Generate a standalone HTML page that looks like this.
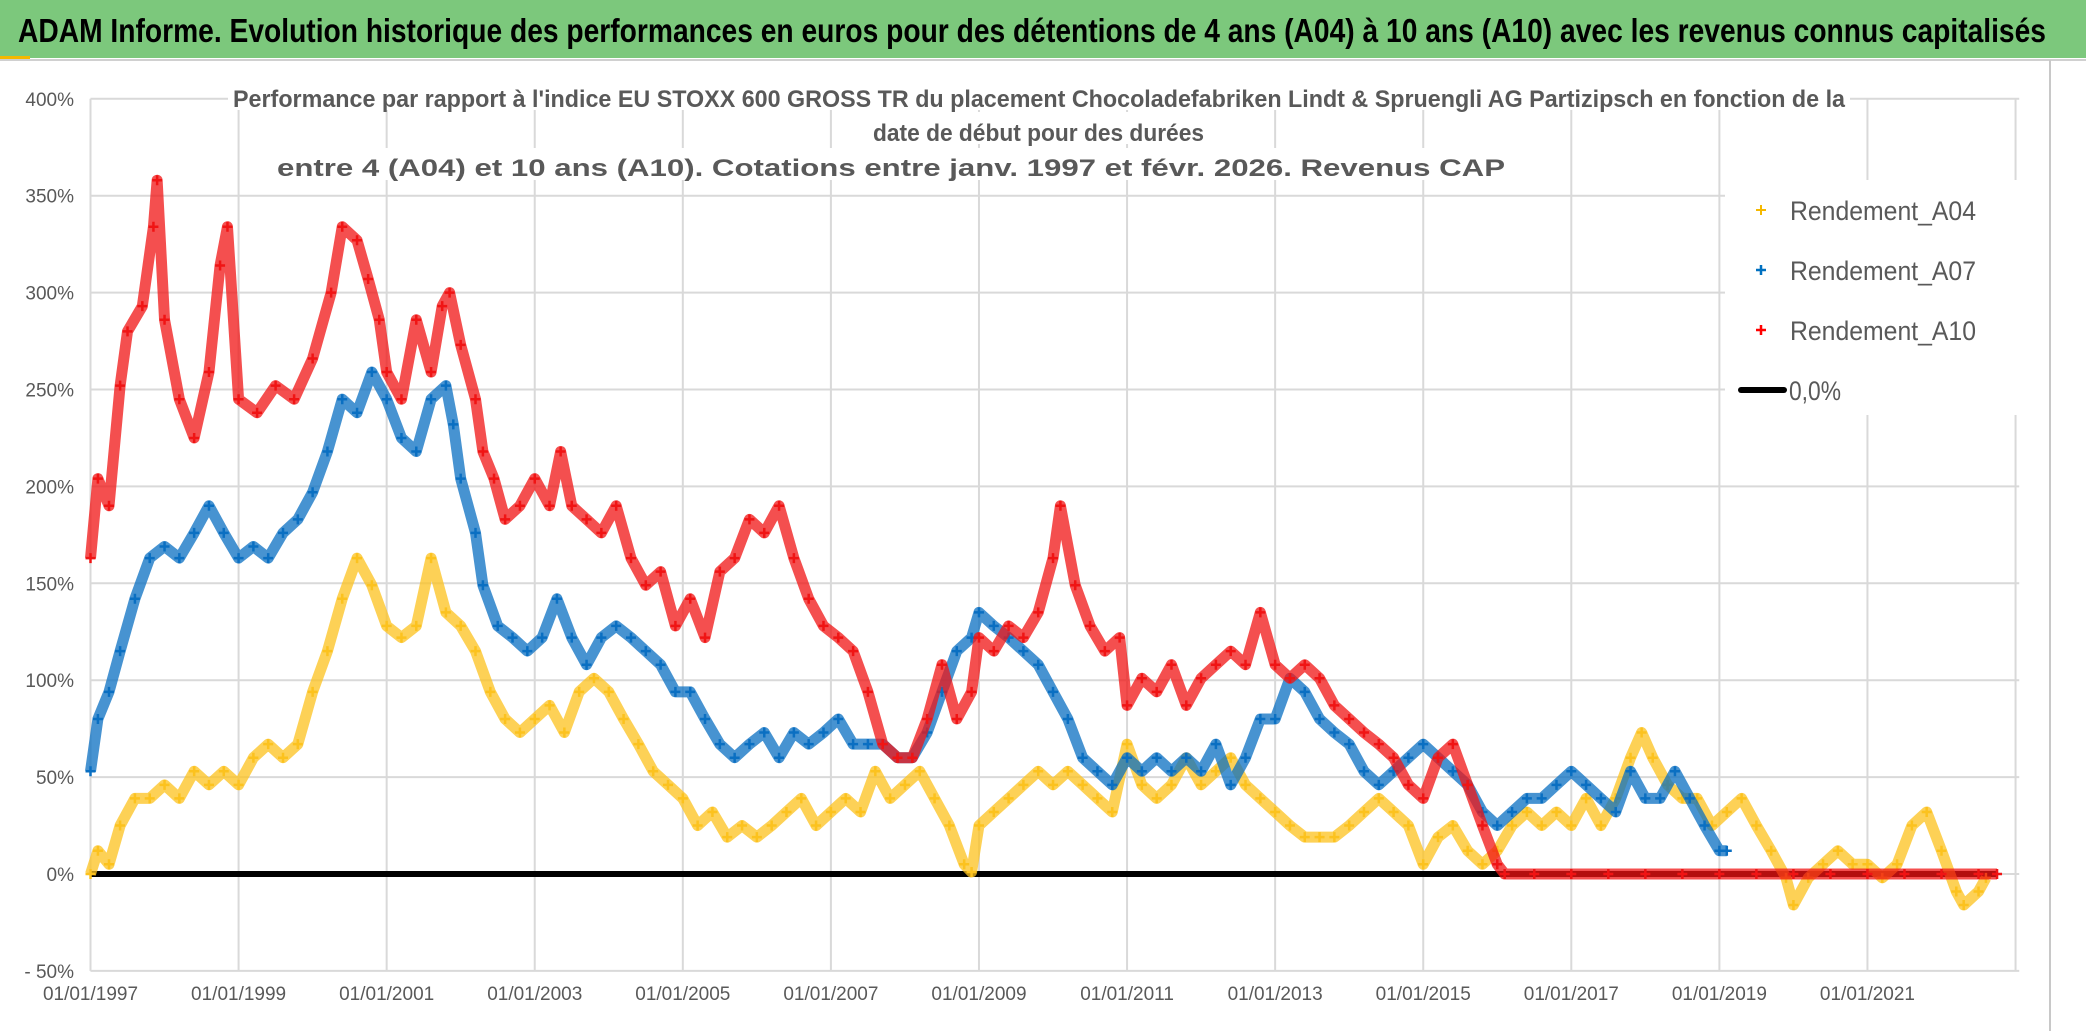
<!DOCTYPE html>
<html><head><meta charset="utf-8"><style>
html,body{margin:0;padding:0;background:#fff;}
svg{display:block;font-family:"Liberation Sans Narrow","Liberation Sans",sans-serif;}
</style></head><body>
<svg id="chart" width="2086" height="1031" viewBox="0 0 2086 1031">
  <rect x="0" y="0" width="2086" height="1031" fill="#fff"/>
  <rect x="0" y="0" width="2086" height="58" fill="#7cc87c"/>
  <rect x="0" y="56" width="30" height="4" fill="#f5b800"/>
  <line x1="0" y1="60" x2="2086" y2="60" stroke="#d0d0d0" stroke-width="2"/>
  <text x="18" y="42" font-size="33" font-weight="bold" fill="#000" textLength="2028" lengthAdjust="spacingAndGlyphs">ADAM Informe. Evolution historique des performances en euros pour des détentions de 4 ans (A04) à 10 ans (A10) avec les revenus connus capitalisés</text>
  <line x1="2050" y1="60" x2="2050" y2="1031" stroke="#c8c8c8" stroke-width="2"/>
  <g id="grid"></g>
  <g id="yticks"></g>
  <g id="xticks"></g>
  <g id="series"></g>
  <g>
    <rect x="228" y="78" width="1622" height="32" fill="#fff"/>
    <rect x="866" y="112" width="344" height="32" fill="#fff"/>
    <rect x="272" y="148" width="1238" height="32" fill="#fff"/>
    <text x="233" y="107" font-size="24" font-weight="bold" fill="#595959" textLength="1612" lengthAdjust="spacingAndGlyphs">Performance par rapport à l'indice EU STOXX 600 GROSS TR  du placement Chocoladefabriken Lindt &amp; Spruengli AG Partizipsch en fonction de la</text>
    <text x="873" y="141" font-size="24" font-weight="bold" fill="#595959" textLength="331" lengthAdjust="spacingAndGlyphs">date de début pour des durées</text>
    <text x="277" y="176" font-size="24" font-weight="bold" fill="#595959" textLength="1228" lengthAdjust="spacingAndGlyphs">entre 4 (A04) et 10 ans (A10). Cotations entre janv. 1997 et févr. 2026. Revenus CAP</text>
  </g>
  <g>
    <rect x="1725" y="180" width="295" height="235" fill="#fff"/>
    <g>
      <path d="M1756 210h10M1761 205v10" stroke="#f5b800" stroke-width="2"/>
      <text x="1790" y="220" font-size="27" fill="#595959" textLength="186" lengthAdjust="spacingAndGlyphs">Rendement_A04</text>
    </g>
    <g>
      <path d="M1756 270h10M1761 265v10" stroke="#0070c0" stroke-width="2.5"/>
      <text x="1790" y="280" font-size="27" fill="#595959" textLength="186" lengthAdjust="spacingAndGlyphs">Rendement_A07</text>
    </g>
    <g>
      <path d="M1756 330h10M1761 325v10" stroke="#ff0000" stroke-width="2.5"/>
      <text x="1790" y="340" font-size="27" fill="#595959" textLength="186" lengthAdjust="spacingAndGlyphs">Rendement_A10</text>
    </g>
    <g>
      <line x1="1741" y1="390" x2="1784" y2="390" stroke="#000" stroke-width="6" stroke-linecap="round"/>
      <text x="1789" y="400" font-size="27" fill="#595959" textLength="52" lengthAdjust="spacingAndGlyphs">0,0%</text>
    </g>
  </g>
</svg>
<script>
const yTicks = [400, 350, 300, 250, 200, 150, 100, 50, 0, -50];
const yTickLabels = ["400%","350%","300%","250%","200%","150%","100%","50%","0%","- 50%"];
const xTickYears = [1997,1999,2001,2003,2005,2007,2009,2011,2013,2015,2017,2019,2021];
const xTickLabels = ["01/01/1997","01/01/1999","01/01/2001","01/01/2003","01/01/2005","01/01/2007","01/01/2009","01/01/2011","01/01/2013","01/01/2015","01/01/2017","01/01/2019","01/01/2021"];

const tA10 = [1997.0,1997.1,1997.25,1997.4,1997.5,1997.7,1997.85,1997.9,1998.0,1998.2,1998.4,1998.6,1998.75,1998.85,1999.0,1999.25,1999.5,1999.75,2000.0,2000.25,2000.4,2000.6,2000.75,2000.9,2001.0,2001.2,2001.4,2001.6,2001.75,2001.85,2002.0,2002.2,2002.3,2002.45,2002.6,2002.8,2003.0,2003.2,2003.35,2003.5,2003.7,2003.9,2004.1,2004.3,2004.5,2004.7,2004.9,2005.1,2005.3,2005.5,2005.7,2005.9,2006.1,2006.3,2006.5,2006.7,2006.9,2007.1,2007.3,2007.5,2007.7,2007.9,2008.1,2008.3,2008.5,2008.7,2008.9,2009.0,2009.2,2009.4,2009.6,2009.8,2010.0,2010.1,2010.3,2010.5,2010.7,2010.9,2011.0,2011.2,2011.4,2011.6,2011.8,2012.0,2012.2,2012.4,2012.6,2012.8,2013.0,2013.2,2013.4,2013.6,2013.8,2014.0,2014.2,2014.4,2014.6,2014.8,2015.0,2015.2,2015.4,2015.6,2015.8,2016.0,2016.1,2016.5,2017.0,2017.5,2018.0,2018.5,2019.0,2019.5,2020.0,2020.5,2021.0,2021.5,2022.0,2022.5,2022.75];
const vA10 = [163,204,190,252,280,293,334,358,286,245,225,259,314,334,245,238,252,245,266,300,334,327,307,286,259,245,286,259,293,300,273,245,218,204,183,190,204,190,218,190,183,176,190,163,149,156,128,142,122,156,163,183,176,190,163,142,128,122,115,94,67,60,60,80,108,80,94,122,115,128,122,135,163,190,149,128,115,122,87,101,94,108,87,101,108,115,108,135,108,101,108,101,87,80,73,67,60,46,39,60,67,46,25,5,0,0,0,0,0,0,0,0,0,0,0,0,0,0,0];

const tA07 = [1997.0,1997.1,1997.25,1997.4,1997.6,1997.8,1998.0,1998.2,1998.4,1998.6,1998.8,1999.0,1999.2,1999.4,1999.6,1999.8,2000.0,2000.2,2000.4,2000.6,2000.8,2001.0,2001.2,2001.4,2001.6,2001.8,2001.9,2002.0,2002.2,2002.3,2002.5,2002.7,2002.9,2003.1,2003.3,2003.5,2003.7,2003.9,2004.1,2004.3,2004.5,2004.7,2004.9,2005.1,2005.3,2005.5,2005.7,2005.9,2006.1,2006.3,2006.5,2006.7,2006.9,2007.1,2007.3,2007.5,2007.7,2007.9,2008.1,2008.3,2008.5,2008.7,2008.9,2009.0,2009.2,2009.4,2009.6,2009.8,2010.0,2010.2,2010.4,2010.6,2010.8,2011.0,2011.2,2011.4,2011.6,2011.8,2012.0,2012.2,2012.4,2012.6,2012.8,2013.0,2013.2,2013.4,2013.6,2013.8,2014.0,2014.2,2014.4,2014.6,2014.8,2015.0,2015.2,2015.4,2015.6,2015.8,2016.0,2016.2,2016.4,2016.6,2016.8,2017.0,2017.2,2017.4,2017.6,2017.8,2018.0,2018.2,2018.4,2018.6,2018.8,2019.0,2019.1];
const vA07 = [53,80,94,115,142,163,169,163,176,190,176,163,169,163,176,183,197,218,245,238,259,245,225,218,245,252,232,204,176,149,128,122,115,122,142,122,108,122,128,122,115,108,94,94,80,67,60,67,73,60,73,67,73,80,67,67,67,60,60,73,94,115,122,135,128,122,115,108,94,80,60,53,46,60,53,60,53,60,53,67,46,60,80,80,101,94,80,73,67,53,46,53,60,67,60,53,46,32,25,32,39,39,46,53,46,39,32,53,39,39,53,39,25,12,12];

const tA04 = [1997.0,1997.1,1997.25,1997.4,1997.6,1997.8,1998.0,1998.2,1998.4,1998.6,1998.8,1999.0,1999.2,1999.4,1999.6,1999.8,2000.0,2000.2,2000.4,2000.6,2000.8,2001.0,2001.2,2001.4,2001.6,2001.8,2002.0,2002.2,2002.4,2002.6,2002.8,2003.0,2003.2,2003.4,2003.6,2003.8,2004.0,2004.2,2004.4,2004.6,2004.8,2005.0,2005.2,2005.4,2005.6,2005.8,2006.0,2006.2,2006.4,2006.6,2006.8,2007.0,2007.2,2007.4,2007.6,2007.8,2008.0,2008.2,2008.4,2008.6,2008.8,2008.9,2009.0,2009.2,2009.4,2009.6,2009.8,2010.0,2010.2,2010.4,2010.6,2010.8,2011.0,2011.2,2011.4,2011.6,2011.8,2012.0,2012.2,2012.4,2012.6,2012.8,2013.0,2013.2,2013.4,2013.6,2013.8,2014.0,2014.2,2014.4,2014.6,2014.8,2015.0,2015.2,2015.4,2015.6,2015.8,2016.0,2016.2,2016.4,2016.6,2016.8,2017.0,2017.2,2017.4,2017.6,2017.8,2017.95,2018.1,2018.3,2018.5,2018.7,2018.9,2019.1,2019.3,2019.5,2019.7,2019.9,2020.0,2020.2,2020.4,2020.6,2020.8,2021.0,2021.2,2021.4,2021.6,2021.8,2022.0,2022.2,2022.3,2022.5,2022.6];
const vA04 = [0,12,5,25,39,39,46,39,53,46,53,46,60,67,60,67,94,115,142,163,149,128,122,128,163,135,128,115,94,80,73,80,87,73,94,101,94,80,67,53,46,39,25,32,19,25,19,25,32,39,25,32,39,32,53,39,46,53,39,25,5,1,25,32,39,46,53,46,53,46,39,32,67,46,39,46,60,46,53,60,46,39,32,25,19,19,19,25,32,39,32,25,5,19,25,12,5,12,25,32,25,32,25,39,25,39,60,73,60,46,39,39,25,32,39,25,12,-2,-16,-2,5,12,5,5,-2,5,25,32,12,-9,-16,-9,-2];

const zeroStart = 1997.0, zeroEnd = 2022.75;

const NS = "http://www.w3.org/2000/svg";
const X0 = 90.5, PX_PER_YEAR = 74.04;
const Y0 = 874, PX_PER_PCT = 96.9/50;
function xScale(t){ return X0 + (t - 1997) * PX_PER_YEAR; }
function yScale(v){ return Y0 - v * PX_PER_PCT; }
const plotRight = xScale(2023.05);

const grid = document.getElementById('grid');
for (let i = 0; i < yTicks.length; i++) {
  const l = document.createElementNS(NS,'line');
  
  
  l.setAttribute('x1', xScale(1997)); l.setAttribute('x2', plotRight);
  l.setAttribute('y1', yScale(yTicks[i])); l.setAttribute('y2', yScale(yTicks[i]));
  l.setAttribute('stroke', '#d9d9d9'); l.setAttribute('stroke-width', '2');
  grid.appendChild(l);
  const tx = document.createElementNS(NS,'text');
  
  
  tx.setAttribute('x', 74); tx.setAttribute('y', yScale(yTicks[i]) + 7);
  tx.setAttribute('text-anchor', 'end'); tx.setAttribute('font-size', '19');
  tx.setAttribute('fill', '#595959');
  tx.textContent = yTickLabels[i];
  document.getElementById('yticks').appendChild(tx);
}
const gridYears = xTickYears.concat([2023]);
for (let i = 0; i < gridYears.length; i++) {
  const l = document.createElementNS(NS,'line');
  
  
  l.setAttribute('x1', xScale(gridYears[i])); l.setAttribute('x2', xScale(gridYears[i]));
  l.setAttribute('y1', yScale(400)); l.setAttribute('y2', yScale(-50));
  l.setAttribute('stroke', '#d9d9d9'); l.setAttribute('stroke-width', '2');
  grid.appendChild(l);
}
for (let i = 0; i < xTickYears.length; i++) {
  const tx = document.createElementNS(NS,'text');
  
  
  tx.setAttribute('x', xScale(xTickYears[i])); tx.setAttribute('y', 1000);
  tx.setAttribute('text-anchor', 'middle'); tx.setAttribute('font-size', '19');
  tx.setAttribute('fill', '#595959');
  tx.textContent = xTickLabels[i];
  document.getElementById('xticks').appendChild(tx);
}

const seriesG = document.getElementById('series');
const zl = document.createElementNS(NS,'line');


zl.setAttribute('x1', xScale(zeroStart)); zl.setAttribute('x2', xScale(zeroEnd));
zl.setAttribute('y1', yScale(0)); zl.setAttribute('y2', yScale(0));
zl.setAttribute('stroke', '#000'); zl.setAttribute('stroke-width', '6');
seriesG.appendChild(zl);

function drawSeries(ts, vs, color, name){
  const g = document.createElementNS(NS,'g');
  
  
  let pts = '';
  for (let i = 0; i < ts.length; i++) pts += xScale(ts[i]) + ',' + yScale(vs[i]) + ' ';
  const pl = document.createElementNS(NS,'polyline');
  
  
  pl.setAttribute('points', pts);
  pl.setAttribute('fill', 'none'); pl.setAttribute('stroke', color);
  pl.setAttribute('stroke-width', '11'); pl.setAttribute('stroke-opacity', '0.75');
  pl.setAttribute('stroke-linejoin', 'round');
  g.appendChild(pl);
  let d = '';
  for (let i = 0; i < ts.length; i++) {
    const x = xScale(ts[i]), y = yScale(vs[i]);
    d += 'M' + (x-5) + ' ' + y + 'h10M' + x + ' ' + (y-5) + 'v10';
  }
  const mk = document.createElementNS(NS,'path');
  
  
  mk.setAttribute('d', d);
  mk.setAttribute('stroke', color); mk.setAttribute('stroke-width', '2.5');
  g.appendChild(mk);
  seriesG.appendChild(g);
}
drawSeries(tA04, vA04, '#fcc21e', 'series-a04');
drawSeries(tA07, vA07, '#0a6fc2', 'series-a07');
drawSeries(tA10, vA10, '#f01414', 'series-a10');
</script>
</body></html>
